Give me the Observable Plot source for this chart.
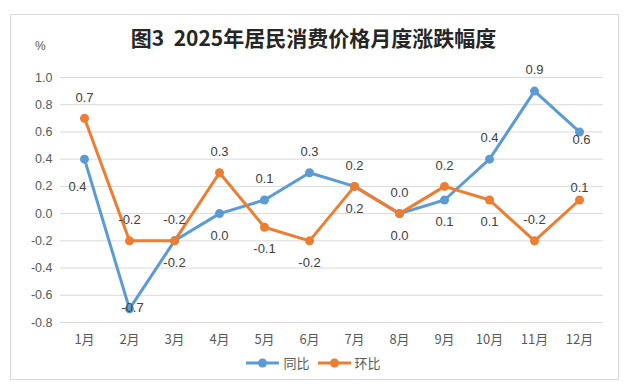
<!DOCTYPE html>
<html><head><meta charset="utf-8">
<script src="https://cdn.jsdelivr.net/npm/d3@7"></script>
<script src="https://cdn.jsdelivr.net/npm/@observablehq/plot@0.6"></script>
<style>
body{margin:0;background:#fff;}
#wrap{position:relative;width:627px;height:388px;overflow:hidden;font-family:"Liberation Sans","Noto Sans CJK SC",sans-serif;}
#frame{position:absolute;left:10px;top:14px;width:609px;height:366px;border:1px solid #d9d9d9;box-sizing:border-box;}
#title{position:absolute;left:0;width:627px;top:24px;text-align:center;font-family:"Noto Sans CJK SC",sans-serif;font-weight:bold;font-size:21px;color:#262626;line-height:26px;white-space:pre;}
#unit{position:absolute;left:35px;top:39px;font-size:12px;color:#595959;}
#legend{position:absolute;top:353px;left:0;width:627px;display:flex;justify-content:center;gap:8px;font-family:"Noto Sans CJK SC",sans-serif;font-size:13px;color:#595959;}
#legend span{display:flex;align-items:center;gap:4px;}
#chart{position:absolute;left:0;top:0;}
</style></head>
<body><div id="wrap"><div id="frame"></div><div id="chart"></div>
<div id="title"></div><div id="unit">%</div><div id="legend"></div></div>
<script>
const title = "图3  2025年居民消费价格月度涨跌幅度";
const unitLabel = "%";
const months = ["1月","2月","3月","4月","5月","6月","7月","8月","9月","10月","11月","12月"];
const seriesNames = ["同比","环比"];
const yoy = [0.4,-0.7,-0.2,0.0,0.1,0.3,0.2,0.0,0.1,0.4,0.9,0.6];
const mom = [0.7,-0.2,-0.2,0.3,-0.1,-0.2,0.2,0.0,0.2,0.1,-0.2,0.1];
const yoyLabelPlace = ["belowLeft","on","below","below","above","above","below","below","below","above","above","belowNear"];
const momLabelPlace = ["above","above","above","above","below","below","above","above","above","below","above","aboveNear"];
const yTicks = [-0.8,-0.6,-0.4,-0.2,0.0,0.2,0.4,0.6,0.8,1.0];
const colors = ["#5B9BD5","#ED7D31"];

document.getElementById("title").textContent = title;
document.getElementById("unit").textContent = unitLabel;

const rows = [];
months.forEach((m,i)=>{
  rows.push({month:m, series:seriesNames[0], value:yoy[i], place:yoyLabelPlace[i]});
});
months.forEach((m,i)=>{
  rows.push({month:m, series:seriesNames[1], value:mom[i], place:momLabelPlace[i]});
});

const placeOffsets = {
  above:{dx:0,dy:-21}, below:{dx:0,dy:22}, on:{dx:3,dy:-1},
  belowLeft:{dx:-7,dy:28}, belowNear:{dx:2,dy:8}, aboveNear:{dx:0,dy:-12}
};
const fmt = v => v.toFixed(1);

const labelMarks = Object.entries(placeOffsets).map(([k,o]) =>
  Plot.text(rows, {x:"month", y:"value", text:d=>fmt(d.value), filter:d=>d.place===k,
    dx:o.dx, dy:o.dy, fill:"#404040", fontSize:13}));

const chart = Plot.plot({
  width:627, height:388,
  marginLeft:60, marginRight:24, marginTop:77, marginBottom:66,
  style:{fontFamily:'"Liberation Sans","Noto Sans CJK SC",sans-serif', fontSize:"12px", background:"transparent", overflow:"visible"},
  x:{type:"point", domain:months, padding:0.5, label:null},
  y:{domain:[-0.8,1.0], label:null},
  color:{domain:seriesNames, range:colors},
  marks:[
    Plot.ruleY(yTicks, {stroke:"#d9d9d9", strokeWidth:1}),
    Plot.axisY({ticks:yTicks, tickFormat:fmt, tickSize:0, tickPadding:8, fill:"#595959", label:null, fontSize:12.5}),
    Plot.axisX({tickSize:0, tickPadding:12, fill:"#595959", label:null, fontSize:13, fontFamily:'"Noto Sans CJK SC",sans-serif'}),
    Plot.line(rows, {x:"month", y:"value", z:"series", stroke:"series", strokeWidth:3, curve:"linear"}),
    Plot.dot(rows, {x:"month", y:"value", fill:"series", r:4.5}),
    ...labelMarks
  ]
});
document.getElementById("chart").appendChild(chart);

const lg = document.getElementById("legend");
seriesNames.forEach((n,i)=>{
  const s = document.createElement("span");
  s.innerHTML = `<svg width="33" height="10"><line x1="0" y1="5" x2="33" y2="5" stroke="${colors[i]}" stroke-width="3"/><circle cx="16.5" cy="5" r="4.5" fill="${colors[i]}"/></svg>`;
  const t = document.createElement("span"); t.textContent = n;
  s.appendChild(t);
  lg.appendChild(s);
});
</script></body></html>
